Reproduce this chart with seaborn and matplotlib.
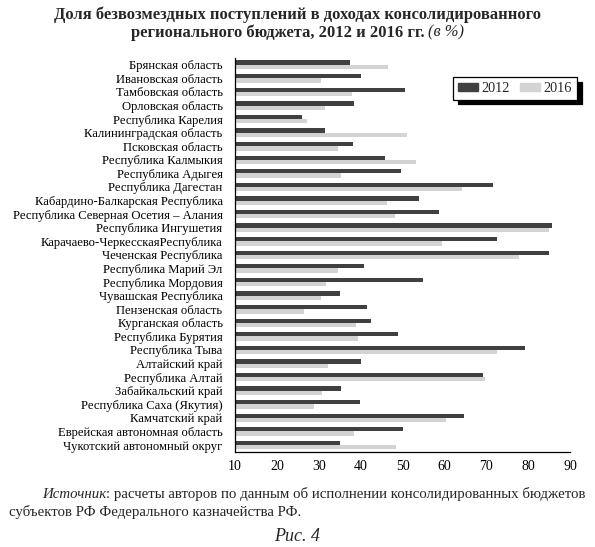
import pandas as pd
import matplotlib
matplotlib.use("Agg")
import matplotlib.pyplot as plt
import seaborn as sns

# ---- data ----
regions = [
    "Брянская область", "Ивановская область", "Тамбовская область",
    "Орловская область", "Республика Карелия", "Калининградская область",
    "Псковская область", "Республика Калмыкия", "Республика Адыгея",
    "Республика Дагестан", "Кабардино-Балкарская Республика",
    "Республика Северная Осетия – Алания", "Республика Ингушетия",
    "Карачаево-ЧеркесскаяРеспублика", "Чеченская Республика",
    "Республика Марий Эл", "Республика Мордовия", "Чувашская Республика",
    "Пензенская область", "Курганская область", "Республика Бурятия",
    "Республика Тыва", "Алтайский край", "Республика Алтай",
    "Забайкальский край", "Республика Саха (Якутия)", "Камчатский край",
    "Еврейская автономная область", "Чукотский автономный округ",
]
v2012 = [37.5, 40.0, 50.6, 38.4, 26.1, 31.6, 38.2, 45.9, 49.7, 71.6,
         54.0, 58.8, 85.8, 72.5, 85.1, 40.8, 55.0, 35.1, 41.6, 42.4,
         48.9, 79.2, 40.2, 69.3, 35.4, 39.8, 64.8, 50.0, 35.1]
v2016 = [46.5, 30.6, 37.9, 31.6, 27.3, 51.1, 34.5, 53.3, 35.4, 64.2,
         46.3, 48.1, 85.1, 59.4, 77.8, 34.6, 31.8, 30.5, 26.4, 39.0,
         39.3, 72.5, 32.3, 69.6, 30.7, 28.8, 60.5, 38.4, 48.5]
years = ["2012", "2016"]
x_ticks = [10, 20, 30, 40, 50, 60, 70, 80, 90]

df = pd.DataFrame({
    "region": regions * 2,
    "value": v2012 + v2016,
    "year": [years[0]] * len(regions) + [years[1]] * len(regions),
})

# ---- style ----
sns.set_style("white")
plt.rcParams["font.family"] = ["Liberation Serif", "DejaVu Serif"]

DARK = "#404040"
LIGHT = "#d2d4d4"

fig = plt.figure(figsize=(5.95, 5.47), dpi=100)
ax = fig.add_axes([0.395, 0.174, 0.563, 0.72])

sns.barplot(data=df, y="region", x="value", hue="year", hue_order=years,
            palette=[DARK, LIGHT], orient="h", width=0.63, saturation=1,
            edgecolor="none", ax=ax, legend=False)

ax.set_xlim(10, 90)
ax.set_xticks(x_ticks)
ax.set_xlabel("")
ax.set_ylabel("")
for s in ["top", "right"]:
    ax.spines[s].set_visible(False)
for s in ["left", "bottom"]:
    ax.spines[s].set_color("black")
    ax.spines[s].set_linewidth(0.9)
ax.tick_params(axis="x", direction="in", length=3.5, width=0.8,
               labelsize=10, pad=6, colors="black")
ax.tick_params(axis="y", length=0, labelsize=9.1, pad=9, colors="black")

# legend with a hard black shadow
handles = [plt.Rectangle((0, 0), 1, 1, color=c) for c in (DARK, LIGHT)]
leg = fig.legend(handles, years, loc="upper left",
                 bbox_to_anchor=(0.761, 0.859), ncol=2, fontsize=10.3,
                 frameon=True, fancybox=False, edgecolor="black",
                 framealpha=1, borderaxespad=0, handlelength=1.4,
                 handleheight=0.45, handletextpad=0.25, columnspacing=0.75,
                 borderpad=0.33,
                 shadow={"color": "black", "alpha": 1, "ox": 3.5, "oy": -3.5})
leg.get_frame().set_linewidth(0.9)

# title: bold part + italic "(в %)"
fig.text(0.5, 0.988, "Доля безвозмездных поступлений в доходах консолидированного",
         ha="center", va="top", fontsize=11.9, fontweight="bold")
t2 = fig.text(0.5, 0.955, "регионального бюджета, 2012 и 2016 гг. ",
              ha="center", va="top", fontsize=11.9, fontweight="bold")
t3 = fig.text(0.5, 0.955, "(в %)", ha="left", va="top", fontsize=11.9,
              style="italic")

fig.canvas.draw()
r = fig.canvas.get_renderer()
w2 = t2.get_window_extent(r).width / fig.bbox.width
w3 = t3.get_window_extent(r).width / fig.bbox.width
x0 = 0.5 - (w2 + w3) / 2
t2.set_ha("left")
t2.set_x(x0)
t3.set_x(x0 + w2)

# source note
s1 = fig.text(0.071, 0.096, "Источник", ha="left", va="center",
              fontsize=10.7, style="italic")
fig.canvas.draw()
ws = s1.get_window_extent(r).width / fig.bbox.width
fig.text(0.071 + ws, 0.096,
         ": расчеты авторов по данным об исполнении консолидированных бюджетов",
         ha="left", va="center", fontsize=10.7)
fig.text(0.015, 0.064, "субъектов РФ Федерального казначейства РФ.",
         ha="left", va="center", fontsize=10.7)
fig.text(0.5, 0.02, "Рис. 4", ha="center", va="center", fontsize=13,
         style="italic")

fig.savefig("out.png", dpi=100, facecolor="white")
